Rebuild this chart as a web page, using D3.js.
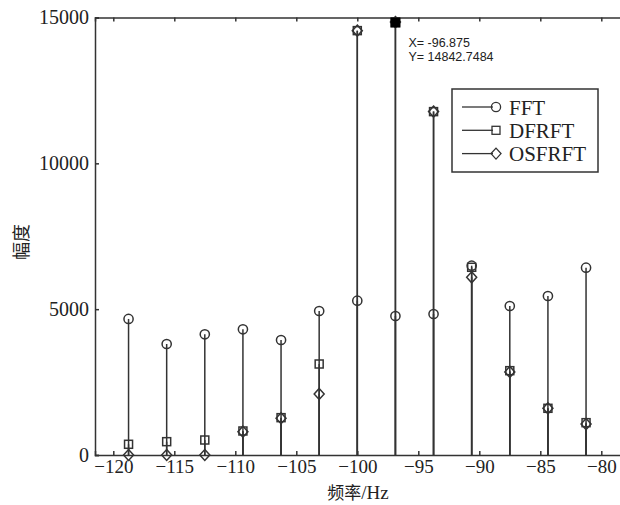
<!DOCTYPE html>
<html><head><meta charset="utf-8">
<script src="https://cdn.jsdelivr.net/npm/d3@7"></script>
<style>body{margin:0;background:#fff}svg{display:block}</style>
</head><body>
<svg id="c" width="620" height="505"></svg>
<script>
const freqs = [-118.75,-115.625,-112.5,-109.375,-106.25,-103.125,-100,-96.875,-93.75,-90.625,-87.5,-84.375,-81.25];
const fftVals    = [4664,3806,4139,4310,3943,4938,5290,4766,4835,6491,5109,5452,6423];
const dfrftVals  = [367,457,514,823,1280,3120,14550,14842.7484,11773,6436,2891,1601,1108];
const osfrftVals = [0,0,0,800,1260,2092,14550,14842.7484,11773,6093,2850,1601,1060];
const seriesNames = ["FFT","DFRFT","OSFRFT"];
const seriesShapes = ["circle","square","diamond"];
const xTicks = [-120,-115,-110,-105,-100,-95,-90,-85,-80];
const yTicks = [0,5000,10000,15000];
const tipX = -96.875, tipY = 14842.7484;

const svg = d3.select("#c");
const col = "#333";
const x = d3.scaleLinear().domain([-121.5,-78]).range([95,625.7]);
const y = d3.scaleLinear().domain([0,15000]).range([455,17.5]);
const serif = "'Liberation Serif','Times New Roman',serif";

// axes
const gb = svg.append("g").attr("transform","translate(0,455)")
  .call(d3.axisBottom(x).tickValues(xTicks).tickSize(-4).tickPadding(5).tickFormat(d=>"\u2212"+Math.abs(d)));
const gt = svg.append("g").attr("transform","translate(0,17.5)")
  .call(d3.axisTop(x).tickValues(xTicks).tickSize(-4).tickFormat(""));
const gl = svg.append("g").attr("transform","translate(95,0)")
  .call(d3.axisLeft(y).tickValues(yTicks).tickSize(-4).tickPadding(6).tickFormat(d3.format("d")));
[gb,gt,gl].forEach(g=>{
  g.selectAll("path,line").attr("stroke",col).attr("stroke-width",1.5);
  g.selectAll("text").attr("fill","#222").style("font-family",serif).style("font-size","20px");
});
gb.selectAll("text").style("font-size","19px");

// stems
const series = [fftVals, dfrftVals, osfrftVals];
function marker(g, shape, cx, cy){
  if(shape==="circle") g.append("circle").attr("cx",cx).attr("cy",cy).attr("r",4.6);
  else if(shape==="square") g.append("rect").attr("x",cx-4).attr("y",cy-4).attr("width",8).attr("height",8);
  else g.append("path").attr("d",`M${cx},${cy-5.5}L${cx+5},${cy}L${cx},${cy+5.5}L${cx-5},${cy}Z`);
}
series.forEach((vals,si)=>{
  const g = svg.append("g").attr("stroke",col).attr("stroke-width",1.5).attr("fill","none");
  g.selectAll("line").data(freqs).enter().append("line")
    .attr("x1",d=>x(d)).attr("x2",d=>x(d)).attr("y1",y(0)).attr("y2",(d,i)=>y(vals[i]));
  freqs.forEach((f,i)=>marker(g, seriesShapes[si], x(f), y(vals[i])));
});

// data tip
svg.append("rect").attr("x",x(tipX)-5).attr("y",y(tipY)-4.5).attr("width",10).attr("height",10).attr("fill","#000");
const tt = svg.append("g").style("font-family","'Liberation Sans',Arial,sans-serif").style("font-size","12.5px").attr("fill","#222");
tt.append("text").attr("x",x(tipX)+13).attr("y",47).text("X= -96.875");
tt.append("text").attr("x",x(tipX)+13).attr("y",61).text("Y= 14842.7484");

// legend
const lg = svg.append("g");
lg.append("rect").attr("x",452).attr("y",89).attr("width",146).attr("height",83)
  .attr("fill","#fff").attr("stroke",col).attr("stroke-width",1.5);
seriesNames.forEach((n,i)=>{
  const ly = 107 + i*23.3;
  const g = lg.append("g").attr("stroke",col).attr("stroke-width",1.3).attr("fill","none");
  g.append("line").attr("x1",462).attr("x2",493).attr("y1",ly).attr("y2",ly);
  marker(g, seriesShapes[i], 496, ly);
  lg.append("text").attr("x",509).attr("y",ly+7.5).text(n)
    .style("font-family",serif).style("font-size","21px").attr("fill","#222");
});

// axis labels
svg.append("text").attr("x",358).attr("y",499).attr("text-anchor","middle")
  .style("font-family",serif).style("font-size","19px").attr("fill","#222")
  .html("<tspan style=\"font-family:'Noto Sans CJK SC',serif;font-size:17px\">频率</tspan>/Hz");
svg.append("text").attr("transform","translate(28,242) rotate(-90)").attr("text-anchor","middle")
  .style("font-family","'Noto Sans CJK SC',serif").style("font-size","18px").attr("fill","#222").text("幅度");
</script>
</body></html>
